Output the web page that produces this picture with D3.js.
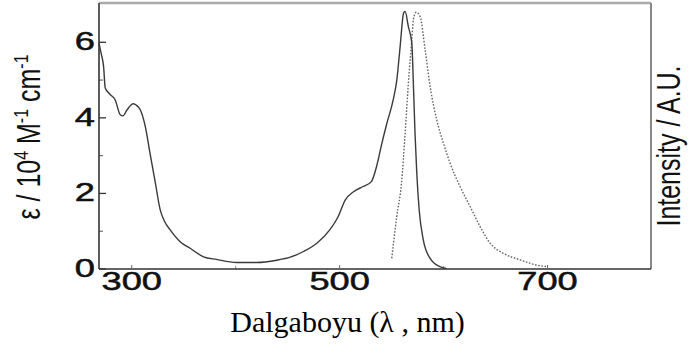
<!DOCTYPE html>
<html>
<head>
<meta charset="utf-8">
<script src="https://cdn.jsdelivr.net/npm/d3@7"></script>
<style>
  html, body { margin: 0; padding: 0; background: #fff; }
  svg { display: block; }
</style>
</head>
<body>
<svg id="chart" width="688" height="345"></svg>
<script>
// Absorption spectrum (ε, 10^4 M^-1 cm^-1)
const absWavelength = [269, 271, 273.4, 275, 280, 284.6, 289.4, 292, 296, 302, 305, 308.7, 313.5, 318, 323, 327.9, 332, 337.5, 347, 356.7, 369.5, 382, 401.5, 420.7, 440, 453, 465.7, 478.6, 491, 499, 505.8, 513.8, 523, 531, 536, 541, 546, 552, 555.5, 558.7, 562, 563.5, 566.6, 569.9, 571.4, 573, 574.7, 577, 581, 587.5, 597, 603];
const absValues = [5.97, 5.7, 5.35, 4.78, 4.6, 4.46, 4.07, 4.04, 4.2, 4.36, 4.32, 4.2, 3.76, 3.06, 2.3, 1.55, 1.25, 1.02, 0.71, 0.535, 0.31, 0.24, 0.16, 0.16, 0.22, 0.3, 0.45, 0.67, 1.02, 1.37, 1.81, 2.03, 2.17, 2.3, 2.7, 3.3, 3.85, 4.46, 4.99, 5.88, 6.76, 6.8, 6.4, 5.97, 4.9, 3.58, 2.52, 1.55, 0.75, 0.27, 0.05, 0];

// Emission spectrum (normalised, arbitrary units on the same scale)
const emWavelength = [550.6, 555.4, 560, 563.5, 566.6, 569.9, 571.4, 574, 577.9, 582.7, 587.5, 593.9, 600.3, 606.7, 616.3, 626, 635.6, 645.2, 658, 674, 690, 700];
const emValues = [0.27, 1.37, 2.26, 3.58, 4.9, 6.05, 6.58, 6.78, 6.67, 5.79, 4.82, 3.93, 3.32, 2.79, 2.17, 1.64, 1.11, 0.67, 0.4, 0.23, 0.09, 0.05];

// Axis ticks
const xTicks = [300, 500, 700];
const xMinorTicks = [400, 600];
const yTicks = [0, 2, 4, 6];
const yMinorTicks = [1, 3, 5];

const xDomain = [269, 800];
const yDomain = [0, 7];

const svg = d3.select("#chart");
const plotLeft = 99, plotRight = 651, plotTop = 3, plotBottom = 269;

const x = d3.scaleLinear().domain(xDomain).range([plotLeft, plotRight]);
const y = d3.scaleLinear().domain(yDomain).range([268.5, 4]);

const sans = "'Liberation Sans', Arial, Helvetica, sans-serif";

// Frame: top and right edges are lighter
svg.append("line").attr("x1", plotLeft).attr("x2", plotRight).attr("y1", plotTop).attr("y2", plotTop)
  .attr("stroke", "#aaa").attr("stroke-width", 2.5);
svg.append("line").attr("x1", plotRight).attr("x2", plotRight).attr("y1", plotTop).attr("y2", plotBottom)
  .attr("stroke", "#888").attr("stroke-width", 2);

// Minor ticks
svg.append("g").attr("transform", `translate(${plotLeft},0)`)
  .call(d3.axisLeft(y).tickValues(yMinorTicks).tickSizeInner(-4).tickSizeOuter(0).tickFormat(""))
  .call(g => g.select(".domain").remove())
  .selectAll("line").attr("stroke", "#555");
svg.append("g").attr("transform", `translate(0,${plotBottom})`)
  .call(d3.axisBottom(x).tickValues(xMinorTicks).tickSizeInner(-3).tickSizeOuter(0).tickFormat(""))
  .call(g => g.select(".domain").remove())
  .selectAll("line").attr("stroke", "#888");

// Left axis
const yAxis = svg.append("g").attr("transform", `translate(${plotLeft},0)`)
  .call(d3.axisLeft(y).tickValues(yTicks).tickSizeInner(-7).tickSizeOuter(0).tickPadding(0).tickFormat(d3.format("d")));
yAxis.select(".domain").attr("d", `M0,${plotTop}V${plotBottom}`).attr("stroke", "#333").attr("stroke-width", 1.6);
yAxis.selectAll(".tick line").attr("stroke", "#333").attr("stroke-width", 1.3);
yAxis.selectAll(".tick text")
  .attr("x", 0)
  .attr("transform", "translate(-4,0) scale(1.45,1)")
  .attr("font-family", sans).attr("font-size", 25).attr("fill", "#111")
  .attr("stroke", "#111").attr("stroke-width", 0.5);

// Bottom axis
const xAxis = svg.append("g").attr("transform", `translate(0,${plotBottom})`)
  .call(d3.axisBottom(x).tickValues(xTicks).tickSizeInner(-4).tickSizeOuter(0).tickPadding(3).tickFormat(d3.format("d")));
xAxis.select(".domain").attr("d", `M${plotLeft},0H${plotRight}`).attr("stroke", "#333").attr("stroke-width", 1.6);
xAxis.selectAll(".tick line").attr("stroke", "#666");
xAxis.selectAll(".tick text")
  .attr("transform", "scale(1.45,1)")
  .attr("font-family", sans).attr("font-size", 25).attr("fill", "#111")
  .attr("stroke", "#111").attr("stroke-width", 0.5);

// Spectra
const line = d3.line().x(d => x(d[0])).y(d => y(d[1])).curve(d3.curveMonotoneX);

svg.append("path")
  .datum(d3.zip(emWavelength, emValues))
  .attr("fill", "none").attr("stroke", "#666").attr("stroke-width", 1.4)
  .attr("stroke-dasharray", "1.6,1.6")
  .attr("d", line);

svg.append("path")
  .datum(d3.zip(absWavelength, absValues))
  .attr("fill", "none").attr("stroke", "#3a3a3a").attr("stroke-width", 1.4)
  .attr("d", line);

// Left axis title
const yTitle = svg.append("text")
  .attr("transform", "translate(40,137) scale(1.3,1) rotate(-90)")
  .attr("text-anchor", "middle")
  .attr("font-family", sans).attr("font-size", 25).attr("fill", "#111");
yTitle.append("tspan").text("ε / 10");
yTitle.append("tspan").attr("font-size", 16).attr("dy", -9).text("4");
yTitle.append("tspan").attr("dy", 9).text(" M");
yTitle.append("tspan").attr("font-size", 16).attr("dy", -9).text("-1");
yTitle.append("tspan").attr("dy", 9).text(" cm");
yTitle.append("tspan").attr("font-size", 16).attr("dy", -9).text("-1");

// Right axis title
svg.append("text")
  .attr("transform", "translate(680,146) scale(1.3,1) rotate(-90)")
  .attr("text-anchor", "middle")
  .attr("font-family", sans).attr("font-size", 25).attr("fill", "#111")
  .text("Intensity / A.U.");

// Bottom axis title
svg.append("defs").append("clipPath").attr("id", "titleClip")
  .append("rect").attr("x", 0).attr("y", 290).attr("width", 688).attr("height", 48);
svg.append("text")
  .attr("x", 347.5).attr("y", 332)
  .attr("clip-path", "url(#titleClip)")
  .attr("text-anchor", "middle")
  .attr("font-family", "'Liberation Serif', 'Times New Roman', serif")
  .attr("font-size", 30).attr("fill", "#000")
  .text("Dalgaboyu (λ , nm)");
</script>
</body>
</html>
